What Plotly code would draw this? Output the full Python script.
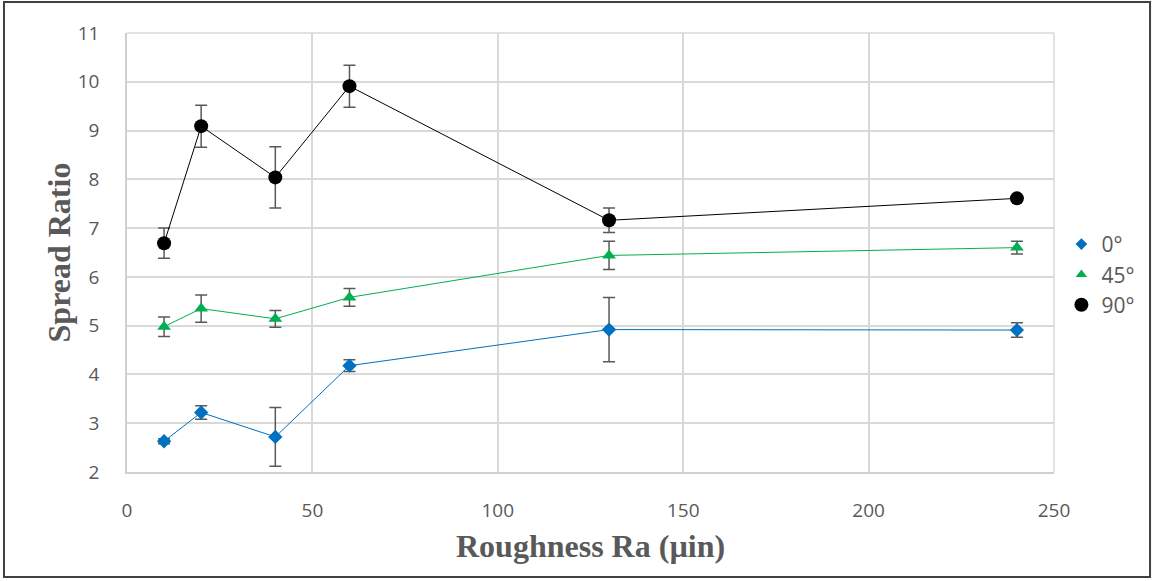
import plotly.graph_objects as go

roughness = [10, 20, 40, 60, 130, 240]

series_names = ["0°", "45°", "90°"]
ratio_0 = [2.63, 3.22, 2.72, 4.18, 4.92, 4.91]
err_0 = [0.05, 0.14, 0.60, 0.12, 0.66, 0.15]
ratio_45 = [4.98, 5.35, 5.14, 5.58, 6.44, 6.60]
err_45 = [0.20, 0.28, 0.17, 0.18, 0.29, 0.13]
ratio_90 = [6.69, 9.09, 8.04, 9.91, 7.16, 7.61]
err_90 = [0.31, 0.43, 0.63, 0.43, 0.25, 0.05]

colors = ["#0070C0", "#00B050", "#000000"]
symbols = ["diamond", "triangle-up", "circle"]
sizes = [11, 12, 14]
legend_sizes = [9, 10, 14]

GRAY = "#595959"
fig = go.Figure()
for name, ys, es, c, s, sz in zip(series_names, [ratio_0, ratio_45, ratio_90],
                                  [err_0, err_45, err_90], colors, symbols, sizes):
    fig.add_trace(go.Scatter(
        x=roughness, y=ys, name=name, mode="lines+markers", showlegend=False,
        line=dict(color=c, width=1),
        marker=dict(color=c, symbol=s, size=sz),
        error_y=dict(type="data", array=es, visible=True, color=GRAY,
                     thickness=1.5, width=6),
    ))
# legend entries (markers only, as in the reference)
for name, c, s, lsz in zip(series_names, colors, symbols, legend_sizes):
    fig.add_trace(go.Scatter(
        x=[None], y=[None], name=name, mode="markers", showlegend=True,
        marker=dict(color=c, symbol=s, size=lsz),
    ))

fig.update_layout(
    width=1152, height=581,
    margin=dict(l=127, r=98, t=33, b=109, autoexpand=False),
    paper_bgcolor="white", plot_bgcolor="white",
    font=dict(family="Open Sans", color=GRAY, size=19),
    showlegend=True,
    legend=dict(x=1.008, y=0.45, xanchor="left", yanchor="middle",
                font=dict(size=21, color=GRAY), itemsizing="trace",
                itemwidth=30, tracegroupgap=0, bgcolor="rgba(0,0,0,0)"),
    xaxis=dict(range=[0, 250], dtick=50, showgrid=True, gridcolor="#d9d9d9",
               gridwidth=1.5, showline=True, linecolor="#cfcfcf", linewidth=1.5,
               zeroline=False, ticks="", ticklabelstandoff=20,
               tickfont=dict(size=19, color=GRAY)),
    yaxis=dict(range=[2, 11], dtick=1, showgrid=True, gridcolor="#d9d9d9",
               gridwidth=1.5, showline=True, linecolor="#cfcfcf", linewidth=1.5,
               zeroline=False, ticks="", ticklabelstandoff=22,
               tickfont=dict(size=19, color=GRAY)),
    annotations=[
        dict(text="<b>Roughness Ra (µin)</b>", xref="paper", yref="paper",
             x=0.5, y=-0.1686, xanchor="center", yanchor="middle", showarrow=False,
             font=dict(family="Liberation Serif", size=32, color=GRAY)),
        dict(text="<b>Spread Ratio</b>", xref="paper", yref="paper",
             x=-0.0734, y=0.5, xanchor="center", yanchor="middle", showarrow=False,
             textangle=-90,
             font=dict(family="Liberation Serif", size=32, color=GRAY)),
    ],
    shapes=[
        dict(type="rect", xref="paper", yref="paper",
             x0=-0.1327, x1=1.1036, y0=-0.2392, y1=1.0706,
             line=dict(color="#404040", width=2), fillcolor="rgba(0,0,0,0)"),
        dict(type="line", xref="paper", yref="paper", x0=0, x1=1, y0=1, y1=1,
             line=dict(color="#d9d9d9", width=1.5)),
        dict(type="line", xref="paper", yref="paper", x0=1, x1=1, y0=0, y1=1,
             line=dict(color="#d9d9d9", width=1.5)),
    ],
)

fig.write_html("out.html")
